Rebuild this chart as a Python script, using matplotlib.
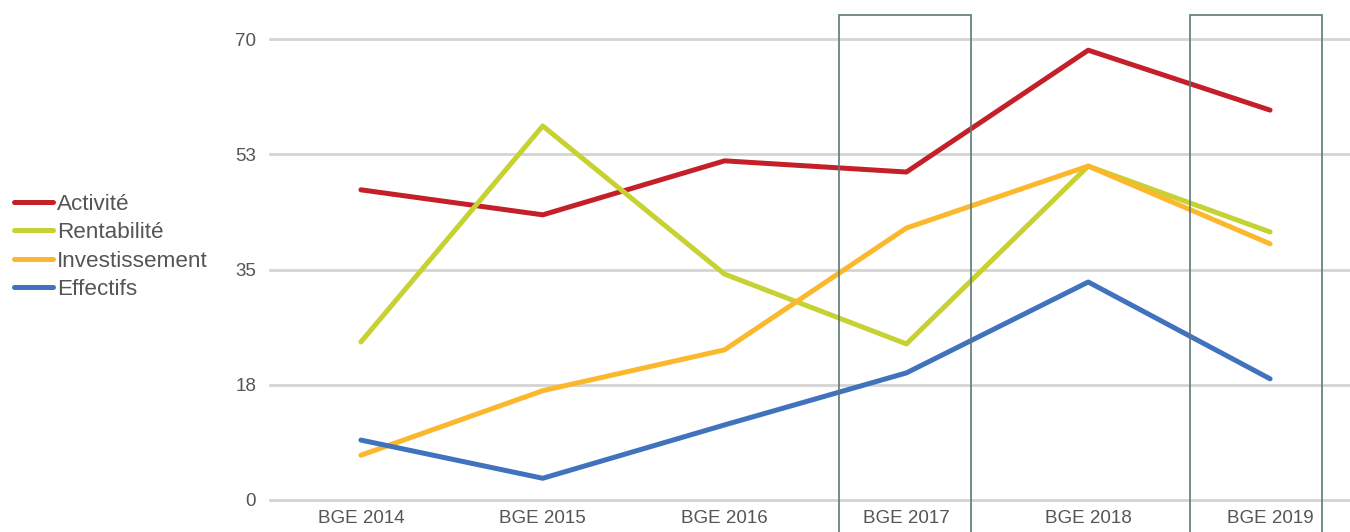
import matplotlib.pyplot as plt
from matplotlib.patches import Rectangle

plt.rcParams['font.family'] = ['Liberation Sans', 'DejaVu Sans']

years = ['BGE 2014', 'BGE 2015', 'BGE 2016', 'BGE 2017', 'BGE 2018', 'BGE 2019']
activite = [47.1, 43.3, 51.5, 49.8, 68.3, 59.2]
rentabilite = [24.0, 56.8, 34.3, 23.7, 50.7, 40.7]
investissement = [6.8, 16.6, 22.8, 41.3, 50.7, 38.9]
effectifs = [9.1, 3.3, 11.4, 19.3, 33.1, 18.4]
yticks = [0, 17.5, 35, 52.5, 70]
ylabels = ['0', '18', '35', '53', '70']
highlighted = ['BGE 2017', 'BGE 2019']

series = [
    ('Activité', activite, '#c4202a'),
    ('Rentabilité', rentabilite, '#c6d232'),
    ('Investissement', investissement, '#fbb82c'),
    ('Effectifs', effectifs, '#4072bd'),
]

fig = plt.figure(figsize=(13.5, 5.32), dpi=100)
ax = fig.add_axes([0.2, 1 - 500 / 532, 1091 / 1350, 461 / 532])

x = list(range(len(years)))
for name, vals, col in series:
    ax.plot(x, vals, color=col, lw=3.6, label=name, solid_capstyle='round',
            solid_joinstyle='round', zorder=3)

ax.set_xlim(-0.5, len(years) - 0.5)
ax.set_ylim(0, 70)
ax.set_yticks(yticks)
ax.set_yticklabels(ylabels)
ax.set_xticks(x)
ax.set_xticklabels(years)
ax.grid(axis='y', color='#d4d4d4', lw=2)
for gl in ax.get_ygridlines():
    gl.set_clip_on(False)
ax.set_axisbelow(True)
for s in ax.spines.values():
    s.set_visible(False)
ax.tick_params(length=0, labelsize=13.5, colors='#555555')
ax.tick_params(axis='y', pad=10)
ax.tick_params(axis='x', pad=7)

# highlight boxes
for name in highlighted:
    i = years.index(name)
    off = 0.0 if i == 3 else -0.07
    r = Rectangle((i - 0.37 + off, -10), 0.726, 83.6, fill=False,
                  edgecolor='#5c7878', lw=1.2, clip_on=False, zorder=4)
    ax.add_patch(r)

leg = fig.legend(loc='upper left', bbox_to_anchor=(0.004, 0.652), frameon=False,
                 fontsize=16.2, handlelength=1.7, handletextpad=0.2,
                 labelspacing=0.32, borderaxespad=0)
for t in leg.get_texts():
    t.set_color('#555555')

fig.savefig('out.png', dpi=100)
